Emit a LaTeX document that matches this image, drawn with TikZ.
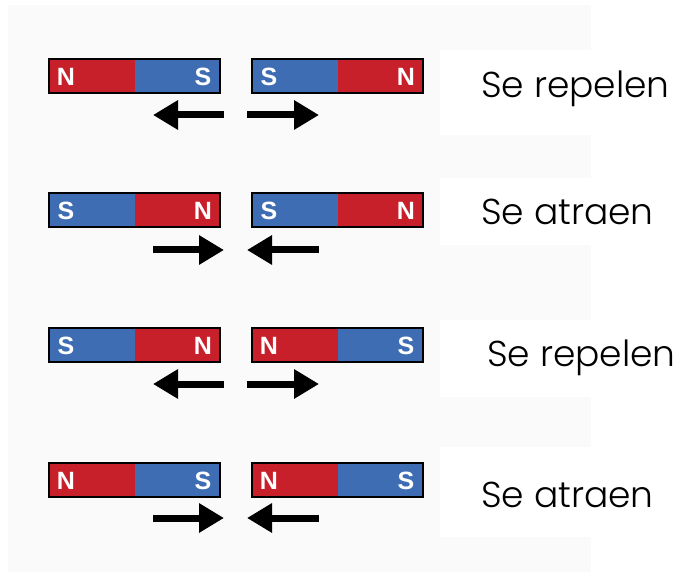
\documentclass[tikz,border=0pt]{standalone}
\usepackage{fontspec}
\setmainfont{Liberation Sans}
\newfontfamily\gothic{Poppins}[UprightFont=* Light]
\usetikzlibrary{arrows.meta}
\definecolor{magred}{HTML}{C8202A}
\definecolor{magblue}{HTML}{3F6DB3}
\definecolor{bggray}{HTML}{FAFAFA}
\tikzset{
  pole/.style={text=white,font=\fontsize{25}{25}\selectfont\bfseries,inner sep=0pt},
  frame/.style={draw=black,line width=2pt},
  force/.style={line width=7pt,-{Triangle[length=25pt,width=28pt]}},
  caption/.style={font=\gothic\fontsize{36}{36}\selectfont,anchor=base west,inner sep=0pt,text=black}
}
% #1 = x left, #2 = y top, #3 = left colour, #4 = right colour, #5 left letter, #6 right letter, #7 name
\newcommand{\magnetbar}[7]{%
  \fill[#3] (#1,#2) rectangle ++(86,34);
  \fill[#4] (#1+86,#2) rectangle ++(85,34);
  \draw[frame] (#1,#2) rectangle ++(171,34);
  \node[pole] (#7l) at (#1+17,#2+17.5) {#5};
  \node[pole] (#7r) at (#1+154,#2+17.5) {#6};
}
\begin{document}
\begin{tikzpicture}[x=1pt,y=-1pt]
\useasboundingbox (0,0) rectangle (681,575);
\fill[white] (0,0) rectangle (681,575);
\fill[bggray] (8,5) rectangle (591,572);
\fill[white] (440,50) rectangle (681,135);
\fill[white] (440,178) rectangle (681,245);
\fill[white] (440,320) rectangle (681,397);
\fill[white] (440,447) rectangle (681,537);

% row 1: repel
\magnetbar{49}{59}{magred}{magblue}{N}{S}{a1}
\magnetbar{252}{59}{magblue}{magred}{S}{N}{b1}
\coordinate (p1) at (224,115); \coordinate (q1) at (153,115);
\coordinate (r1) at (247,115); \coordinate (s1) at (319,115);
\draw[force] (p1) -- (q1);
\draw[force] (r1) -- (s1);
\node[caption] (t1) at (481,98) {Se repelen};

% row 2: attract
\magnetbar{49}{193}{magblue}{magred}{S}{N}{a2}
\magnetbar{252}{193}{magblue}{magred}{S}{N}{b2}
\coordinate (p2) at (153,250); \coordinate (q2) at (224,250);
\coordinate (r2) at (319,250); \coordinate (s2) at (247,250);
\draw[force] (p2) -- (q2);
\draw[force] (r2) -- (s2);
\node[caption] (t2) at (481,225) {Se atraen};

% row 3: repel
\magnetbar{49}{328}{magblue}{magred}{S}{N}{a3}
\magnetbar{252}{328}{magred}{magblue}{N}{S}{b3}
\coordinate (p3) at (224,384); \coordinate (q3) at (153,384);
\coordinate (r3) at (247,384); \coordinate (s3) at (319,384);
\draw[force] (p3) -- (q3);
\draw[force] (r3) -- (s3);
\node[caption] (t3) at (487,366) {Se repelen};

% row 4: attract
\magnetbar{49}{463}{magred}{magblue}{N}{S}{a4}
\magnetbar{252}{463}{magred}{magblue}{N}{S}{b4}
\coordinate (p4) at (153,518); \coordinate (q4) at (224,518);
\coordinate (r4) at (319,518); \coordinate (s4) at (247,518);
\draw[force] (p4) -- (q4);
\draw[force] (r4) -- (s4);
\node[caption] (t4) at (481,507) {Se atraen};
\end{tikzpicture}
\end{document}
